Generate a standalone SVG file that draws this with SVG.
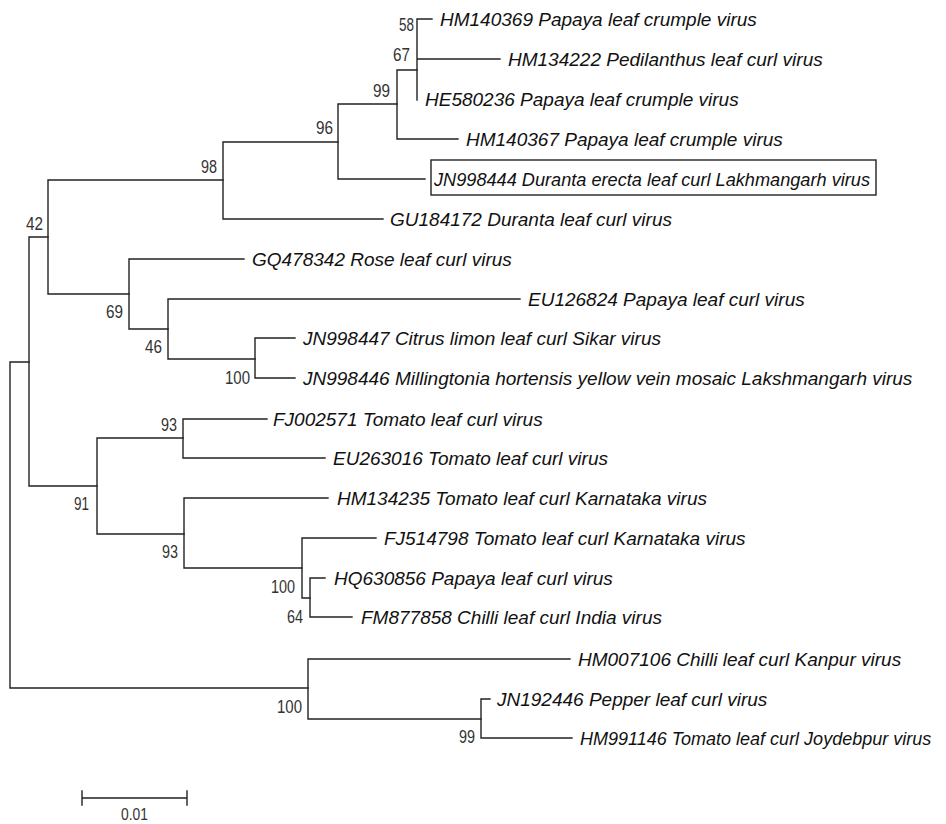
<svg xmlns="http://www.w3.org/2000/svg" width="946" height="824" viewBox="0 0 946 824">
<style>
.br{fill:none;stroke:#222;stroke-width:1.4;stroke-linecap:square}
.lf{font-family:"Liberation Sans",Arial,sans-serif;font-style:italic;font-size:19px;fill:#111}
.bs{font-family:"Liberation Sans",Arial,sans-serif;font-size:18px;fill:#333}
</style>
<rect width="946" height="824" fill="#fff"/>
<g id="connectors">
<path class="br" d="M10,362V688M10,362H29M10,688H308"/>
<path class="br" d="M29,237V486M29,237H48M29,486H97"/>
<path class="br" d="M48,180V294M48,180H223M48,294H129"/>
<path class="br" d="M223,142V219M223,142H338M223,219H383"/>
<path class="br" d="M338,104V179M338,104H397M338,179H425"/>
<path class="br" d="M397,70V139M397,70H417M397,139H458"/>
<path class="br" d="M417,19V100M417,19H432M417,59H500"/>
<path class="br" d="M129,259V329M129,259H244M129,329H168"/>
<path class="br" d="M168,299V359M168,299H520M168,359H255"/>
<path class="br" d="M255,338V378M255,338H295M255,378H295"/>
<path class="br" d="M97,438V534M97,438H183M97,534H184"/>
<path class="br" d="M183,419V458M183,419H267M183,458H325"/>
<path class="br" d="M184,498V568M184,498H328M184,568H302"/>
<path class="br" d="M302,538V598M302,538H376M302,598H310"/>
<path class="br" d="M310,578V617M310,578H325M310,617H352"/>
<path class="br" d="M308,659V719M308,659H570M308,719H481"/>
<path class="br" d="M481,699V738M481,699H490M481,738H572"/>
</g>
<g id="leaf-HM140369"><text class="lf" x="440" y="26">HM140369 Papaya leaf crumple virus</text></g>
<g id="leaf-HM134222"><text class="lf" x="508" y="66">HM134222 Pedilanthus leaf curl virus</text></g>
<g id="leaf-HE580236"><text class="lf" x="425" y="106">HE580236 Papaya leaf crumple virus</text></g>
<g id="leaf-HM140367"><text class="lf" x="466" y="146">HM140367 Papaya leaf crumple virus</text></g>
<g id="leaf-JN998444"><rect x="431" y="160" width="445" height="35" fill="none" stroke="#222" stroke-width="1.4"/><text class="lf" x="434" y="186" textLength="436" lengthAdjust="spacingAndGlyphs">JN998444 Duranta erecta leaf curl Lakhmangarh virus</text></g>
<g id="leaf-GU184172"><text class="lf" x="390" y="226">GU184172 Duranta leaf curl virus</text></g>
<g id="leaf-GQ478342"><text class="lf" x="252" y="266">GQ478342 Rose leaf curl virus</text></g>
<g id="leaf-EU126824"><text class="lf" x="528" y="306">EU126824 Papaya leaf curl virus</text></g>
<g id="leaf-JN998447"><text class="lf" x="303" y="345">JN998447 Citrus limon leaf curl Sikar virus</text></g>
<g id="leaf-JN998446"><text class="lf" x="303" y="385">JN998446 Millingtonia hortensis yellow vein mosaic Lakshmangarh virus</text></g>
<g id="leaf-FJ002571"><text class="lf" x="273" y="426">FJ002571 Tomato leaf curl virus</text></g>
<g id="leaf-EU263016"><text class="lf" x="333" y="465">EU263016 Tomato leaf curl virus</text></g>
<g id="leaf-HM134235"><text class="lf" x="337" y="505">HM134235 Tomato leaf curl Karnataka virus</text></g>
<g id="leaf-FJ514798"><text class="lf" x="384" y="545">FJ514798 Tomato leaf curl Karnataka virus</text></g>
<g id="leaf-HQ630856"><text class="lf" x="334" y="585">HQ630856 Papaya leaf curl virus</text></g>
<g id="leaf-FM877858"><text class="lf" x="361" y="624">FM877858 Chilli leaf curl India virus</text></g>
<g id="leaf-HM007106"><text class="lf" x="578" y="666">HM007106 Chilli leaf curl Kanpur virus</text></g>
<g id="leaf-JN192446"><text class="lf" x="497" y="706">JN192446 Pepper leaf curl virus</text></g>
<g id="leaf-HM991146"><text class="lf" x="580" y="745" style="font-size:18px">HM991146 Tomato leaf curl Joydebpur virus</text></g>
<g id="bootstrap">
<text class="bs" x="399" y="31" textLength="15" lengthAdjust="spacingAndGlyphs">58</text>
<text class="bs" x="393" y="61" textLength="17" lengthAdjust="spacingAndGlyphs">67</text>
<text class="bs" x="373" y="97" textLength="17" lengthAdjust="spacingAndGlyphs">99</text>
<text class="bs" x="316" y="134" textLength="17" lengthAdjust="spacingAndGlyphs">96</text>
<text class="bs" x="201" y="173" textLength="16" lengthAdjust="spacingAndGlyphs">98</text>
<text class="bs" x="26" y="230" textLength="17" lengthAdjust="spacingAndGlyphs">42</text>
<text class="bs" x="106" y="318" textLength="17" lengthAdjust="spacingAndGlyphs">69</text>
<text class="bs" x="145" y="353" textLength="17" lengthAdjust="spacingAndGlyphs">46</text>
<text class="bs" x="225" y="384" textLength="25" lengthAdjust="spacingAndGlyphs">100</text>
<text class="bs" x="161" y="431" textLength="16" lengthAdjust="spacingAndGlyphs">93</text>
<text class="bs" x="74" y="510" textLength="15" lengthAdjust="spacingAndGlyphs">91</text>
<text class="bs" x="162" y="558" textLength="16" lengthAdjust="spacingAndGlyphs">93</text>
<text class="bs" x="271" y="593" textLength="24" lengthAdjust="spacingAndGlyphs">100</text>
<text class="bs" x="287" y="623" textLength="16" lengthAdjust="spacingAndGlyphs">64</text>
<text class="bs" x="277" y="713" textLength="25" lengthAdjust="spacingAndGlyphs">100</text>
<text class="bs" x="459" y="743" textLength="16" lengthAdjust="spacingAndGlyphs">99</text>
</g>
<g id="scale-bar">
<path class="br" d="M82,798H187M82,791V805M187,791V805"/>
<text class="bs" x="121" y="820" style="font-size:17px" textLength="27" lengthAdjust="spacingAndGlyphs">0.01</text>
</g>
</svg>
